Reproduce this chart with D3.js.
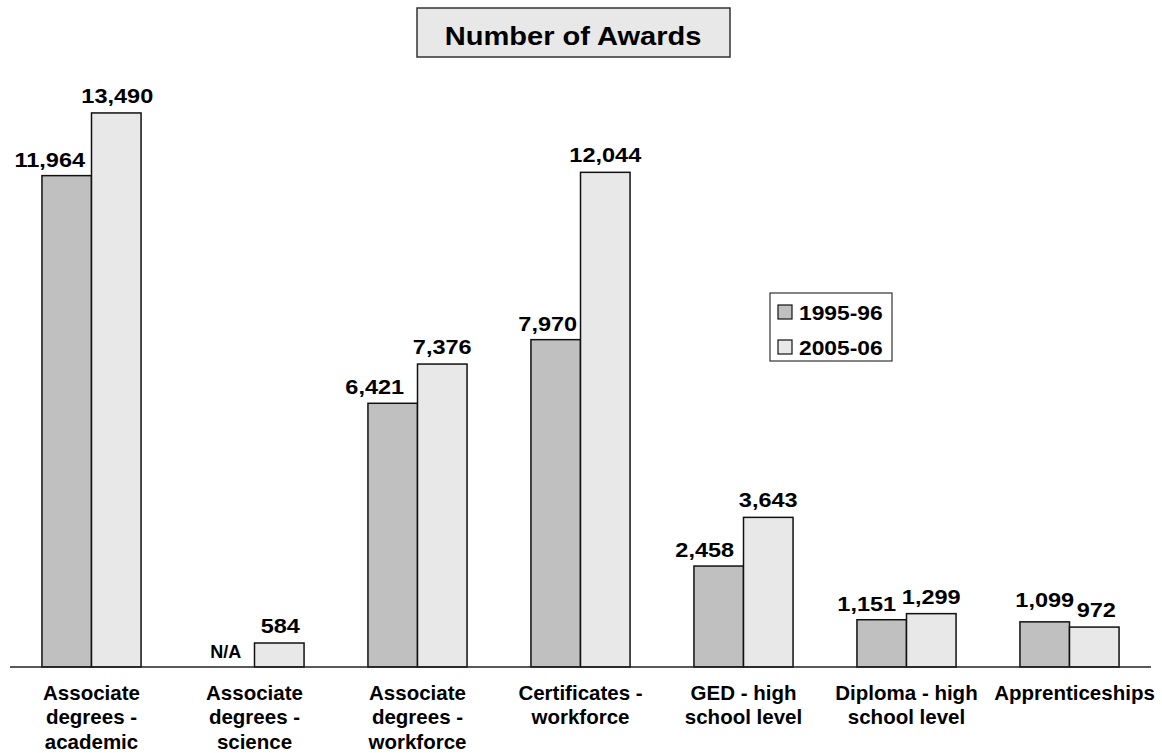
<!DOCTYPE html>
<html>
<head>
<meta charset="utf-8">
<script src="https://cdn.jsdelivr.net/npm/d3@7"></script>
<style>
  html, body { margin: 0; padding: 0; background: #ffffff; }
  svg { display: block; font-family: Arial, "Liberation Sans", Helvetica, sans-serif; }
</style>
</head>
<body>
<svg id="chart" width="1162" height="753"></svg>
<script>
// ---- data ----
const categories = [
  ["Associate", "degrees -", "academic"],
  ["Associate", "degrees -", "science"],
  ["Associate", "degrees -", "workforce"],
  ["Certificates -", "workforce"],
  ["GED - high", "school level"],
  ["Diploma - high", "school level"],
  ["Apprenticeships"]
];
const seriesNames = ["1995-96", "2005-06"];
const values1995 = [11964, null, 6421, 7970, 2458, 1151, 1099];
const values2005 = [13490, 584, 7376, 12044, 3643, 1299, 972];

// ---- layout / style config ----
const colors = ["#c0c0c0", "#e8e8e8"];
const label1995Dx = [-17, -4, -18, -8, -14, -15, 0];
const label2005Dx = [1, 1, 0, 0, 0, 0, 2];
const label1995Gap = [9, 9, 9, 9, 9, 9, 15];

const svg = d3.select("#chart");
const baseY = 667;

const x0 = d3.scaleBand().domain(d3.range(categories.length)).range([10, 1151]).padding(0);
const bw = x0.bandwidth();
const x1 = d3.scaleBand().domain(seriesNames).range([bw * 0.196, bw * 0.804]).padding(0);
const y = d3.scaleLinear().domain([0, 14000]).range([baseY, 92]);

const rows = categories.map((c, i) => ({ i, vals: [values1995[i], values2005[i]] }));

// helper: horizontally widened bold text
function wideText(x, yy, txt, size, sx, anchor) {
  return svg.append("text")
    .attr("transform", `translate(${x},${yy}) scale(${sx},1)`)
    .attr("text-anchor", anchor || "middle")
    .attr("font-size", size)
    .attr("font-weight", "bold")
    .attr("fill", "#000")
    .text(txt);
}

// bars
const g = svg.append("g");
rows.forEach(r => {
  r.vals.forEach((v, s) => {
    if (v == null) return;
    g.append("rect")
      .attr("x", x0(r.i) + x1(seriesNames[s]))
      .attr("y", y(v))
      .attr("width", x1.bandwidth())
      .attr("height", y(0) - y(v))
      .attr("fill", colors[s])
      .attr("stroke", "#111")
      .attr("stroke-width", 1.5);
  });
});

// baseline
svg.append("line")
  .attr("x1", 10).attr("x2", 1151)
  .attr("y1", baseY).attr("y2", baseY)
  .attr("stroke", "#222").attr("stroke-width", 1.5);

// value labels
const fmt = d3.format(",");
rows.forEach(r => {
  r.vals.forEach((v, s) => {
    const cx = x0(r.i) + x1(seriesNames[s]) + x1.bandwidth() / 2;
    let dx, gap;
    if (s === 0) { dx = label1995Dx[r.i]; gap = label1995Gap[r.i]; }
    else { dx = label2005Dx[r.i]; gap = 10; }
    const yy = (v == null ? y(0) : y(v)) - gap;
    if (v == null) wideText(cx + dx, yy, "N/A", 18, 1.0);
    else wideText(cx + dx, yy, fmt(v), 21, 1.12);
  });
});

// category labels
categories.forEach((lines, i) => {
  const t = svg.append("text")
    .attr("text-anchor", "middle")
    .attr("font-size", 20.5)
    .attr("font-weight", "bold");
  lines.forEach((ln, k) => {
    t.append("tspan")
      .attr("x", x0(i) + bw / 2 + (i === 6 ? 5 : 0))
      .attr("y", 700 + k * 24.3)
      .text(ln);
  });
});

// title box
svg.append("rect")
  .attr("x", 417).attr("y", 8).attr("width", 313).attr("height", 49)
  .attr("fill", "#e8e8e8").attr("stroke", "#333").attr("stroke-width", 1.5);
wideText(573, 45, "Number of Awards", 25.5, 1.14);

// legend
svg.append("rect")
  .attr("x", 770).attr("y", 293).attr("width", 122).attr("height", 68)
  .attr("fill", "#fff").attr("stroke", "#333").attr("stroke-width", 1.2);
seriesNames.forEach((name, s) => {
  const ly = 305 + s * 35;
  svg.append("rect")
    .attr("x", 778).attr("y", ly).attr("width", 14).attr("height", 14)
    .attr("fill", colors[s]).attr("stroke", "#111").attr("stroke-width", 1.2);
  wideText(799, ly + 14.5, name, 19.5, 1.17, "start");
});
</script>
</body>
</html>
